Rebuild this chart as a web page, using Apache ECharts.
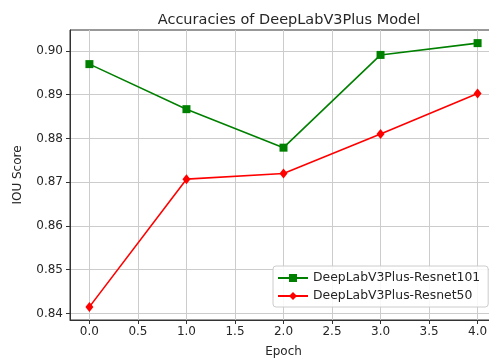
<!DOCTYPE html>
<html>
<head>
<meta charset="utf-8">
<script src="https://cdn.jsdelivr.net/npm/echarts@6/dist/echarts.min.js"></script>
<style>
  html, body { margin: 0; padding: 0; background: #fff; }
  #chart { width: 489px; height: 360px; }
</style>
</head>
<body>
<div id="chart"></div>
<script>
// Epochs and IoU scores for the two backbones
const epochs = [0, 1, 2, 3, 4];
const resnet101 = [0.8970, 0.8867, 0.8779, 0.8991, 0.9018];
const resnet50 = [0.8415, 0.8707, 0.8720, 0.8810, 0.8903];

// Tick positions shown on each axis
const xTicks = [0, 0.5, 1, 1.5, 2, 2.5, 3, 3.5, 4];
const yTicks = [0.84, 0.85, 0.86, 0.87, 0.88, 0.89, 0.90];

const font = 'DejaVu Sans';
const ink = '#262626';

const chart = echarts.init(document.getElementById('chart'), null, { renderer: 'canvas' });

chart.setOption({
  animation: false,
  backgroundColor: '#fff',
  title: {
    text: 'Accuracies of DeepLabV3Plus Model',
    left: 284, top: 8, textAlign: 'center',
    textStyle: { fontFamily: font, fontSize: 14.5, fontWeight: 'normal', color: ink }
  },
  grid: {
    left: 70, right: -8, top: 30, bottom: 40,
    outerBoundsMode: 'none',
    containLabel: false,
    show: true, borderColor: '#333', borderWidth: 1, backgroundColor: 'transparent'
  },
  legend: {
    orient: 'vertical',
    left: 273, top: 266,
    itemWidth: 30, itemHeight: 10, itemGap: 6,
    padding: [6, 8, 5, 4],
    backgroundColor: 'rgba(255,255,255,0.85)',
    borderColor: '#cccccc', borderWidth: 1, borderRadius: 3,
    textStyle: { fontFamily: font, fontSize: 12.4, color: ink },
    data: ['DeepLabV3Plus-Resnet101', 'DeepLabV3Plus-Resnet50']
  },
  xAxis: {
    type: 'value',
    min: -0.2, max: 4.2,
    name: 'Epoch', nameLocation: 'middle', nameGap: 26,
    nameTextStyle: { fontFamily: font, fontSize: 12, color: ink },
    axisLine: { show: true, onZero: false, lineStyle: { color: '#333', width: 1 } },
    axisTick: { show: true, inside: false, length: 4, customValues: xTicks, lineStyle: { color: '#333' } },
    axisLabel: {
      customValues: xTicks, margin: 6,
      fontFamily: font, fontSize: 12, color: ink,
      formatter: v => v.toFixed(1)
    },
    splitLine: { show: true, lineStyle: { color: '#cccccc', width: 1 } }
  },
  yAxis: {
    type: 'value',
    min: 0.8385, max: 0.9048,
    name: 'IOU Score', nameLocation: 'middle', nameGap: 46,
    nameTextStyle: { fontFamily: font, fontSize: 12, color: ink },
    axisLine: { show: true, onZero: false, lineStyle: { color: '#333', width: 1 } },
    axisTick: { show: true, inside: false, length: 4, customValues: yTicks, lineStyle: { color: '#333' } },
    axisLabel: {
      customValues: yTicks, margin: 7,
      fontFamily: font, fontSize: 12, color: ink,
      formatter: v => v.toFixed(2)
    },
    splitLine: { show: true, lineStyle: { color: '#cccccc', width: 1 } }
  },
  series: [
    {
      name: 'DeepLabV3Plus-Resnet101',
      type: 'line',
      data: epochs.map((e, i) => [e, resnet101[i]]),
      symbol: 'rect', symbolSize: 8,
      lineStyle: { color: '#008000', width: 1.6 },
      itemStyle: { color: '#008000' },
      z: 3
    },
    {
      name: 'DeepLabV3Plus-Resnet50',
      type: 'line',
      data: epochs.map((e, i) => [e, resnet50[i]]),
      symbol: 'diamond', symbolSize: [8, 10],
      lineStyle: { color: '#ff0000', width: 1.6 },
      itemStyle: { color: '#ff0000' },
      z: 3
    }
  ]
});
</script>
</body>
</html>
